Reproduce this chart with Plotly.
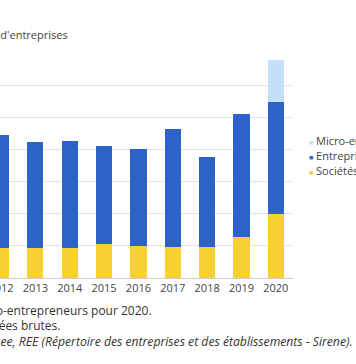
import plotly.graph_objects as go

years = ["2012", "2013", "2014", "2015", "2016", "2017", "2018", "2019", "2020"]
societes = [1850, 1890, 1850, 2100, 1980, 1930, 1930, 2570, 3970]
entreprises_indiv = [7020, 6570, 6670, 6140, 6020, 7330, 5630, 7630, 6980]
micro_entrepreneurs = [None, None, None, None, None, None, None, None, 2610]

series_names = ["Sociétés", "Entreprises individuelles", "Micro-entrepreneurs"]
colors = ["#f7d133", "#2d62c8", "#c6e0fb"]

W, H = 356, 364
ML, MR, MT, MB = 0, 63, 53, 86
PW, PH = W - ML - MR, H - MT - MB

def px(x):
    return (x - ML) / PW

def py(y):
    return (H - MB - y) / PH

fig = go.Figure()
for name, vals, col in zip(series_names, [societes, entreprises_indiv, micro_entrepreneurs], colors):
    fig.add_trace(go.Bar(x=years, y=vals, name=name, marker=dict(color=col, line=dict(width=0)),
                         showlegend=False))

font = "Open Sans, Liberation Sans, sans-serif"
ann = []
# title (cropped on the left)
ann.append(dict(text="Nombre d'entreprises", x=px(70), y=py(35), xref="paper", yref="paper",
                xanchor="right", yanchor="middle", showarrow=False,
                font=dict(family=font, size=11, color="#444")))
# legend
legend_rows = [("Micro-entrepreneurs", colors[2], 140), ("Entreprises individuelles", colors[1], 155.7),
               ("Sociétés", colors[0], 170.5)]
for label, col, yy in legend_rows:
    ann.append(dict(text=f"<span style='color:{col};font-size:7px'>■</span> {label}", x=px(306.5), y=py(yy),
                    xref="paper", yref="paper", xanchor="left", yanchor="middle", showarrow=False,
                    font=dict(family=font, size=11, color="#444")))
# notes
notes = [("Note : y compris micro-entrepreneurs pour 2020.", 154, 310),
         ("Données brutes.", 62, 325.5),
         ("<i>Source : Insee, REE (Répertoire des entreprises et des établissements - Sirene).</i>", 354, 341)]
note_sizes = [12, 12, 12.2]
for (txt, xr, yy), fs in zip(notes, note_sizes):
    ann.append(dict(text=txt, x=px(xr), y=py(yy), xref="paper", yref="paper", xanchor="right",
                    yanchor="middle", showarrow=False, font=dict(family=font, size=fs, color="#333")))

fig.update_layout(
    width=W, height=H, barmode="stack", bargap=0.53,
    margin=dict(l=ML, r=MR, t=MT, b=MB, pad=0, autoexpand=False),
    paper_bgcolor="white", plot_bgcolor="white",
    font=dict(family=font, size=11, color="#444"),
    annotations=ann,
    xaxis=dict(type="category", range=[-0.03, 8.5], showgrid=False, showline=True, linecolor="#cccccc",
               linewidth=1, ticks="", tickfont=dict(size=11, color="#444"), fixedrange=True,
               automargin=False),
    yaxis=dict(range=[0, 14000.5], dtick=2000, showticklabels=False, showgrid=True, gridcolor="#e3e3e3",
               gridwidth=1, zeroline=False, ticks="", fixedrange=True, automargin=False),
)
fig.write_html("out.html", config={"displayModeBar": False},
               post_script="document.body.style.margin='0px';document.body.style.overflow='hidden';")
